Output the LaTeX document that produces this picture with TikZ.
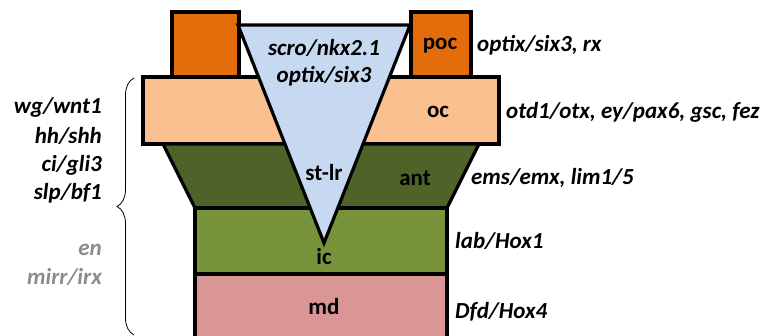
\documentclass[tikz,border=0pt]{standalone}
\usepackage{fontspec}
\setmainfont{Carlito}
\usetikzlibrary{decorations.pathreplacing}
\definecolor{pocC}{HTML}{E46C0A}
\definecolor{ocC}{HTML}{FAC090}
\definecolor{antC}{HTML}{4F6228}
\definecolor{icC}{HTML}{77933C}
\definecolor{mdC}{HTML}{D99694}
\definecolor{triC}{HTML}{C6D9F1}
\definecolor{grayT}{HTML}{8C8C8C}
\tikzset{
  part/.style={draw=black, line width=3.2pt, line join=miter},
  lbl/.style={font=\fontsize{23}{26}\selectfont\bfseries, inner sep=0pt},
  gene/.style={font=\fontsize{23}{26}\selectfont\bfseries\itshape, inner sep=0pt},
}
\begin{document}
\begin{tikzpicture}[x=1pt,y=-1pt]
\useasboundingbox (0,0) rectangle (768,336);
\begin{scope}
\clip (0,0) rectangle (768,336);
% oc
\filldraw[part, fill=ocC] (143,77) rectangle (499,144);
% ant
\filldraw[part, fill=antC] (163,144) -- (479,144) -- (447,208) -- (195,208) -- cycle;
% ic
\filldraw[part, fill=icC] (195,208) rectangle (447,274);
% md
\filldraw[part, fill=mdC] (195,274) rectangle (447,350);
% poc
\filldraw[part, fill=pocC] (172,12) rectangle (239,77);
\filldraw[part, fill=pocC] (411,12) rectangle (471,77);
% st-lr triangle
\filldraw[part, fill=triC] (238,25) -- (410,25) -- (324,243) -- cycle;
\end{scope}
% labels in shapes
\node[lbl] (poc) at (440,46) {poc};
\node[lbl] (oc) at (438,112) {oc};
\node[lbl] (ant) at (415,178) {ant};
\node[lbl] (stlr) at (324,173) {st-lr};
\node[lbl] (ic) at (324,257) {ic};
\node[lbl] (md) at (324,307) {md};
\node[gene] (scro) at (324,48) {scro/nkx2.1};
\node[gene] (optixin) at (324,76) {optix/six3};
% right labels
\node[gene, anchor=west] (g1) at (477,45) {optix/six3, rx};
\node[gene, anchor=west] (g2) at (506,112) {otd1/otx, ey/pax6, gsc, fez};
\node[gene, anchor=west] (g3) at (471,178) {ems/emx, lim1/5};
\node[gene, anchor=west] (g4) at (455,241) {lab/Hox1};
\node[gene, anchor=west] (g5) at (455,312) {Dfd/Hox4};
% left labels
\node[gene, anchor=east] (l1) at (102,108) {wg/wnt1};
\node[gene, anchor=east] (l2) at (102,136) {hh/shh};
\node[gene, anchor=east] (l3) at (102,165) {ci/gli3};
\node[gene, anchor=east] (l4) at (102,193) {slp/bf1};
\node[gene, anchor=east, text=grayT] (l5) at (102,250) {en};
\node[gene, anchor=east, text=grayT] (l6) at (102,277) {mirr/irx};
% brace
\coordinate (bb) at (134,335);
\coordinate (bt) at (134,78);
\draw[line width=0.8pt, decorate, decoration={brace, amplitude=17pt}] (bb) -- (bt);
\end{tikzpicture}
\end{document}
